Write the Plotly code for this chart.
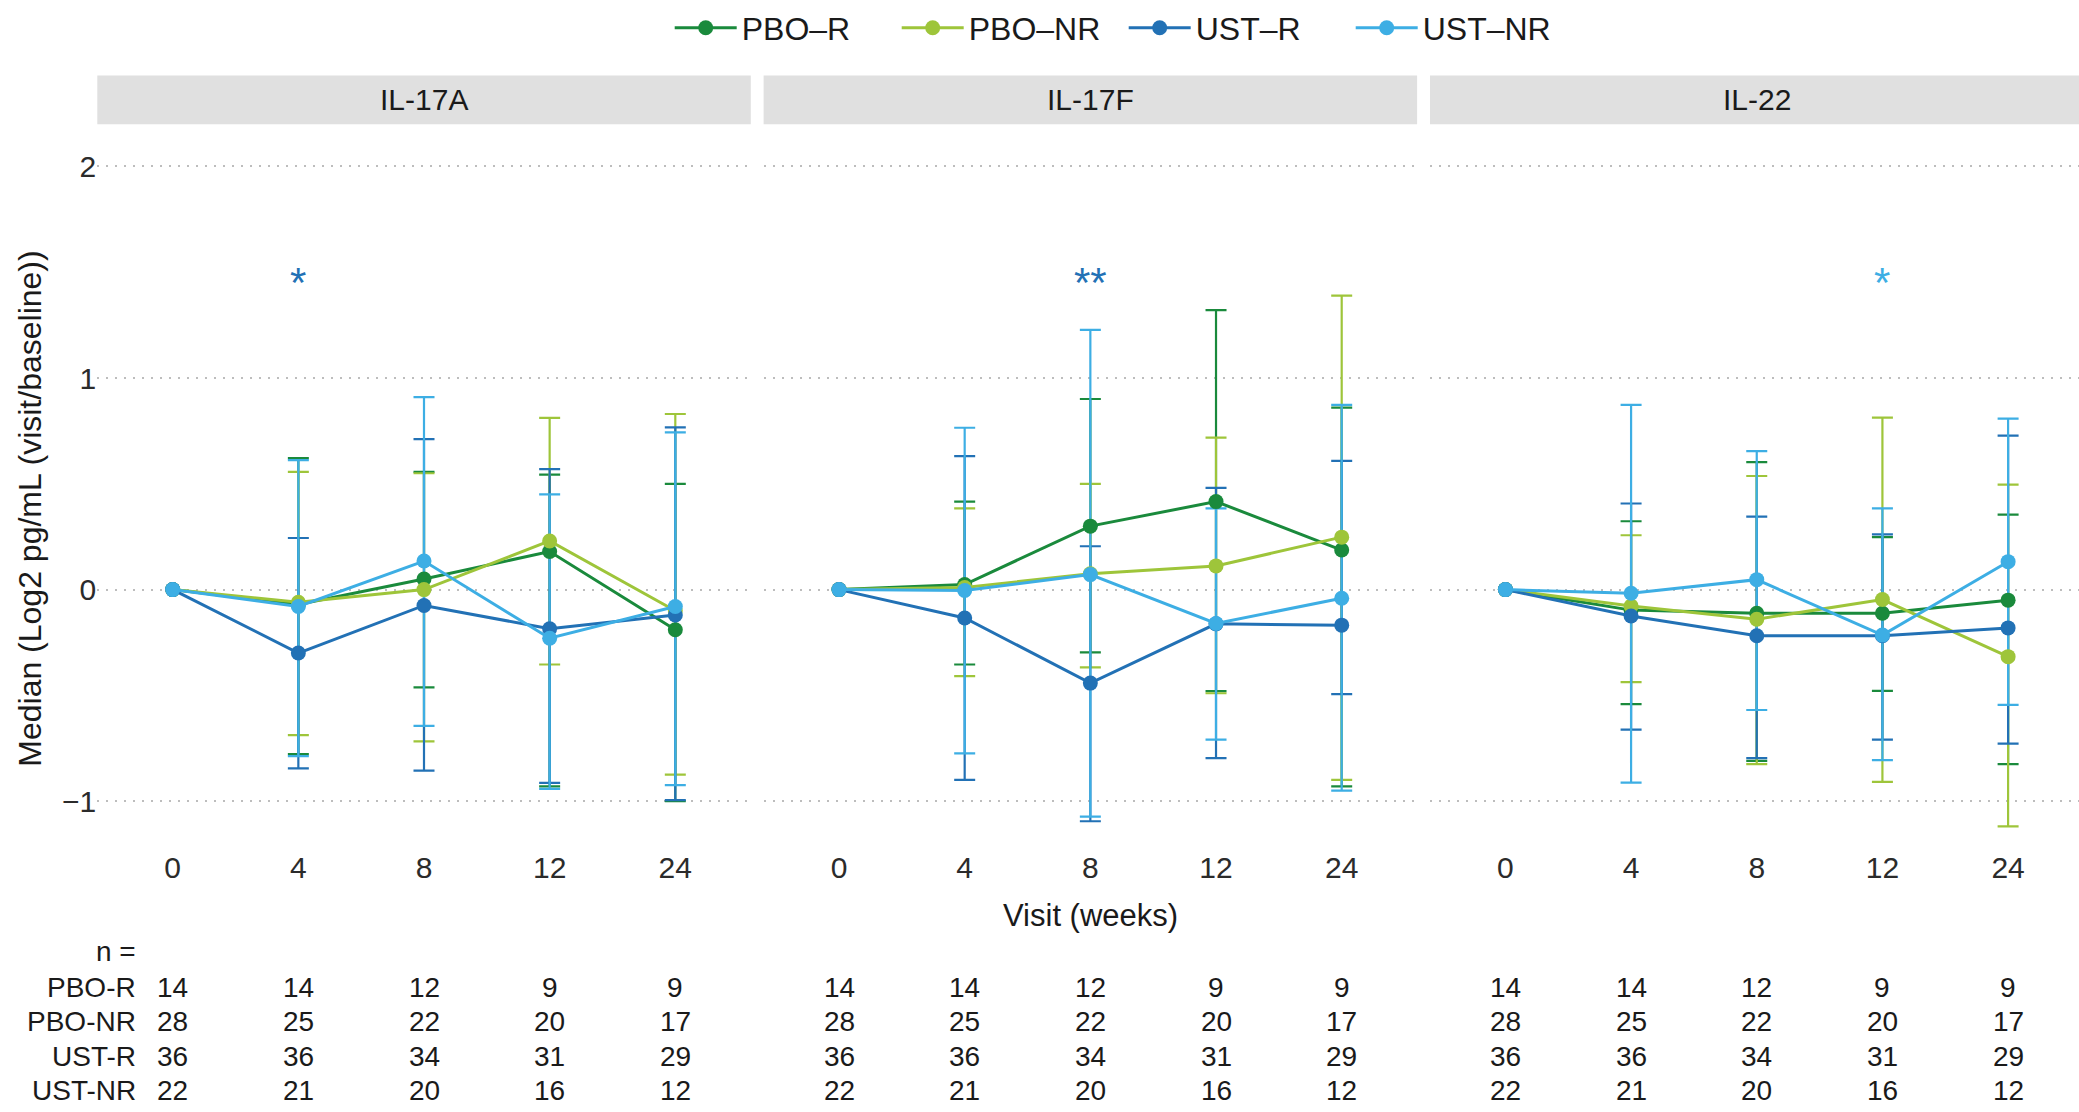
import plotly.graph_objects as go

# ---- data -----------------------------------------------------------------
WEEKS = [0, 4, 8, 12, 24]
GROUPS = ["PBO-R", "PBO-NR", "UST-R", "UST-NR"]
CYTOKINES = ["IL-17A", "IL-17F", "IL-22"]

# median log2 fold change vs baseline, per group
IL17A_MEDIAN = {
    "PBO-R": [0, -0.07, 0.05, 0.18, -0.19],
    "PBO-NR": [0, -0.06, 0.0, 0.23, -0.10],
    "UST-R": [0, -0.30, -0.075, -0.185, -0.12],
    "UST-NR": [0, -0.08, 0.135, -0.23, -0.08],
}
IL17A_LOW = {
    "PBO-R": [None, -0.778, -0.462, -0.93, -1.0],
    "PBO-NR": [None, -0.688, -0.717, -0.354, -0.875],
    "UST-R": [None, -0.845, -0.856, -0.914, -0.995],
    "UST-NR": [None, -0.787, -0.644, -0.942, -0.924],
}
IL17A_HIGH = {
    "PBO-R": [None, 0.621, 0.556, 0.543, 0.50],
    "PBO-NR": [None, 0.556, 0.55, 0.812, 0.830],
    "UST-R": [None, 0.244, 0.711, 0.569, 0.767],
    "UST-NR": [None, 0.612, 0.910, 0.450, 0.743],
}

IL17F_MEDIAN = {
    "PBO-R": [0, 0.024, 0.30, 0.416, 0.187],
    "PBO-NR": [0, 0.01, 0.075, 0.112, 0.248],
    "UST-R": [0, -0.134, -0.442, -0.162, -0.168],
    "UST-NR": [0, -0.004, 0.071, -0.16, -0.041],
}
IL17F_LOW = {
    "PBO-R": [None, -0.354, -0.297, -0.48, -0.93],
    "PBO-NR": [None, -0.409, -0.368, -0.49, -0.899],
    "UST-R": [None, -0.899, -1.095, -0.797, -0.494],
    "UST-NR": [None, -0.774, -1.073, -0.709, -0.95],
}
IL17F_HIGH = {
    "PBO-R": [None, 0.416, 0.901, 1.321, 0.86],
    "PBO-NR": [None, 0.384, 0.50, 0.718, 1.39],
    "UST-R": [None, 0.631, 0.205, 0.481, 0.608],
    "UST-NR": [None, 0.765, 1.228, 0.384, 0.873],
}

IL22_MEDIAN = {
    "PBO-R": [0, -0.097, -0.112, -0.112, -0.05],
    "PBO-NR": [0, -0.078, -0.14, -0.047, -0.317],
    "UST-R": [0, -0.125, -0.218, -0.218, -0.181],
    "UST-NR": [0, -0.017, 0.047, -0.215, 0.132],
}
IL22_LOW = {
    "PBO-R": [None, -0.541, -0.81, -0.479, -0.825],
    "PBO-NR": [None, -0.437, -0.825, -0.909, -1.119],
    "UST-R": [None, -0.662, -0.797, -0.709, -0.728],
    "UST-NR": [None, -0.912, -0.569, -0.806, -0.545],
}
IL22_HIGH = {
    "PBO-R": [None, 0.323, 0.603, 0.248, 0.354],
    "PBO-NR": [None, 0.257, 0.537, 0.813, 0.496],
    "UST-R": [None, 0.407, 0.345, 0.261, 0.728],
    "UST-NR": [None, 0.873, 0.655, 0.384, 0.808],
}

# patients per visit
N_PBO_R = [14, 14, 12, 9, 9]
N_PBO_NR = [28, 25, 22, 20, 17]
N_UST_R = [36, 36, 34, 31, 29]
N_UST_NR = [22, 21, 20, 16, 12]

# significance markers: panel, visit, label, group colour
SIG_PANELS = ["IL-17A", "IL-17F", "IL-22"]
SIG_WEEKS = [4, 8, 12]
SIG_LABELS = ["*", "**", "*"]
SIG_GROUPS = ["UST-R", "UST-R", "UST-NR"]
SIG_Y = 1.47

# ---- styling ----------------------------------------------------------------
COLORS = {
    "PBO-R": "#1A8A3C",
    "PBO-NR": "#9EC53A",
    "UST-R": "#2271B5",
    "UST-NR": "#3DAEE4",
}
LEGEND_NAMES = {g: g.replace("-", "\u2013") for g in GROUPS}
FONT = "Liberation Sans, Arial, Helvetica, sans-serif"
W, H = 2079, 1112

PANEL_DATA = {
    "IL-17A": (IL17A_MEDIAN, IL17A_LOW, IL17A_HIGH),
    "IL-17F": (IL17F_MEDIAN, IL17F_LOW, IL17F_HIGH),
    "IL-22": (IL22_MEDIAN, IL22_LOW, IL22_HIGH),
}
N_TABLE = {"PBO-R": N_PBO_R, "PBO-NR": N_PBO_NR, "UST-R": N_UST_R, "UST-NR": N_UST_NR}

# panel geometry in pixels
PANEL_X = [(97.3, 750.7), (763.6, 1417.1), (1430.0, 2079.0)]
PANEL_W = 653.5
PANEL_TOP, PANEL_BOT = 120.6, 842.5
STRIP_TOP = 71.7
X_RANGES = [[-0.6, 4.6], [-0.6, 4.6], [-0.6, 4.6 - 4.5 / 125.7]]
Y_RANGE = [-1.2, 2.2]
ROW_Y0, ROW_STEP = 987, 34.5


def px_x(v):
    return v / W


def px_y(v):
    return 1 - v / H


cats = [str(w) for w in WEEKS]
fig = go.Figure()

for p, cyt in enumerate(CYTOKINES):
    med, low, high = PANEL_DATA[cyt]
    xa = "x" if p == 0 else f"x{p + 1}"
    ya = "y" if p == 0 else f"y{p + 1}"
    # interquartile whiskers first so lines and points sit on top
    for g in GROUPS:
        idx = [i for i in range(len(WEEKS)) if low[g][i] is not None]
        fig.add_trace(go.Scatter(
            x=[cats[i] for i in idx],
            y=[med[g][i] for i in idx],
            mode="markers",
            marker=dict(size=1, opacity=0, color=COLORS[g]),
            error_y=dict(
                type="data", symmetric=False,
                array=[high[g][i] - med[g][i] for i in idx],
                arrayminus=[med[g][i] - low[g][i] for i in idx],
                color=COLORS[g], thickness=2.2, width=10.5,
            ),
            xaxis=xa, yaxis=ya, showlegend=False, hoverinfo="skip",
        ))
    for g in GROUPS:
        fig.add_trace(go.Scatter(
            x=cats, y=med[g], mode="lines+markers",
            name=LEGEND_NAMES[g], legendgroup=g,
            line=dict(color=COLORS[g], width=3),
            marker=dict(color=COLORS[g], size=15),
            xaxis=xa, yaxis=ya, showlegend=(p == 0),
        ))

layout = dict(
    width=W, height=H,
    margin=dict(l=0, r=0, t=0, b=0),
    paper_bgcolor="white", plot_bgcolor="white",
    font=dict(family=FONT, size=28, color="#1A1A1A"),
    showlegend=True,
    legend=dict(
        orientation="h", x=0.5405, xanchor="center",
        y=px_y(24), yanchor="middle",
        font=dict(size=32, color="#1A1A1A"),
        entrywidth=150, entrywidthmode="pixels",
        itemwidth=62, tracegroupgap=0,
        bgcolor="rgba(0,0,0,0)",
    ),
)

shapes = []
annotations = []
for p, cyt in enumerate(CYTOKINES):
    x0, x1 = PANEL_X[p]
    key = "" if p == 0 else str(p + 1)
    layout[f"xaxis{key}"] = dict(
        domain=[px_x(x0), px_x(x1)], range=X_RANGES[p],
        type="category", categoryorder="array", categoryarray=cats,
        anchor=f"y{key}", showgrid=False, zeroline=False, showline=False,
        ticks="", tickfont=dict(size=30, color="#2B2B2B"),
        ticklabelstandoff=4,
    )
    layout[f"yaxis{key}"] = dict(
        domain=[px_y(PANEL_BOT), px_y(PANEL_TOP)], range=Y_RANGE,
        anchor=f"x{key}", tickvals=[-1, 0, 1, 2],
        showticklabels=(p == 0), ticks="",
        tickfont=dict(size=30, color="#2B2B2B"),
        ticklabelstandoff=0,
        showgrid=True, gridcolor="#BDBDBD", gridwidth=1.7,
        griddash="2px,7px", zeroline=False, showline=False,
    )
    # facet strip
    shapes.append(dict(
        type="rect", xref="paper", yref="paper",
        x0=px_x(x0), x1=px_x(min(x0 + PANEL_W, W)),
        y0=px_y(PANEL_TOP), y1=px_y(STRIP_TOP),
        fillcolor="#E0E0E0", line=dict(width=0), layer="below",
    ))
    annotations.append(dict(
        text=cyt, xref="paper", yref="paper",
        x=px_x(x0 + PANEL_W / 2), y=px_y((PANEL_TOP + STRIP_TOP) / 2),
        xanchor="center", yanchor="middle", showarrow=False,
        font=dict(size=30, color="#1A1A1A"),
    ))
    # patient counts under each visit
    for r, g in enumerate(GROUPS):
        for i, n in enumerate(N_TABLE[g]):
            annotations.append(dict(
                text=str(n), xref=f"x{key}", yref="paper",
                x=i, y=px_y(ROW_Y0 + r * ROW_STEP),
                xanchor="center", yanchor="middle", showarrow=False,
                font=dict(size=28, color="#1A1A1A"),
            ))

for cyt, wk, lab, g in zip(SIG_PANELS, SIG_WEEKS, SIG_LABELS, SIG_GROUPS):
    p = CYTOKINES.index(cyt)
    key = "" if p == 0 else str(p + 1)
    annotations.append(dict(
        text=lab, xref=f"x{key}", yref=f"y{key}",
        x=WEEKS.index(wk), y=SIG_Y, yshift=-4,
        xanchor="center", yanchor="middle", showarrow=False,
        font=dict(size=42, color=COLORS[g]),
    ))

# n-table row labels
annotations.append(dict(
    text="n =", xref="paper", yref="paper", x=px_x(138), y=px_y(951),
    xanchor="right", yanchor="middle", showarrow=False,
    font=dict(size=28, color="#1A1A1A"),
))
for r, g in enumerate(GROUPS):
    annotations.append(dict(
        text=g, xref="paper", yref="paper", x=px_x(138),
        y=px_y(ROW_Y0 + r * ROW_STEP),
        xanchor="right", yanchor="middle", showarrow=False,
        font=dict(size=28, color="#1A1A1A"),
    ))

# axis titles
annotations.append(dict(
    text="Visit (weeks)", xref="paper", yref="paper",
    x=px_x(PANEL_X[1][0] + PANEL_W / 2), y=px_y(915),
    xanchor="center", yanchor="middle", showarrow=False,
    font=dict(size=31, color="#1A1A1A"),
))
annotations.append(dict(
    text="Median (Log2 pg/mL (visit/baseline))", xref="paper", yref="paper",
    x=px_x(30), y=px_y((PANEL_TOP + PANEL_BOT) / 2 + 25), textangle=-90,
    xanchor="center", yanchor="middle", showarrow=False,
    font=dict(size=32, color="#1A1A1A"),
))

layout["shapes"] = shapes
layout["annotations"] = annotations
fig.update_layout(**layout)

fig.write_html("out.html")
